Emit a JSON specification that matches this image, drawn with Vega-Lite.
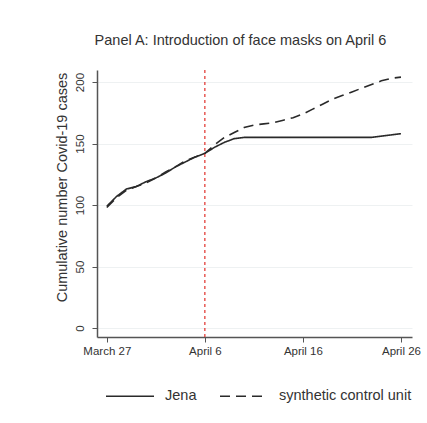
{
  "$schema": "https://vega.github.io/schema/vega-lite/v6.json",
  "width": 315,
  "height": 267,
  "autosize": {"type": "none"},
  "padding": {"left": 97, "top": 70, "right": 15, "bottom": 86},
  "background": "white",
  "title": {
    "text": "Panel A: Introduction of face masks on April 6",
    "font": "Liberation Sans",
    "fontSize": 14.5,
    "fontWeight": "normal",
    "color": "#333",
    "offset": 21,
    "dx": -14
  },
  "config": {
    "view": {"stroke": null},
    "font": "Liberation Sans"
  },
  "datasets": {
    "series": [
      {"date": "2020-03-27T00:00:00", "series": "Jena", "cases": 99},
      {"date": "2020-03-28T00:00:00", "series": "Jena", "cases": 107},
      {"date": "2020-03-29T00:00:00", "series": "Jena", "cases": 113},
      {"date": "2020-03-30T00:00:00", "series": "Jena", "cases": 115},
      {"date": "2020-03-31T00:00:00", "series": "Jena", "cases": 119},
      {"date": "2020-04-01T00:00:00", "series": "Jena", "cases": 122},
      {"date": "2020-04-02T00:00:00", "series": "Jena", "cases": 126},
      {"date": "2020-04-03T00:00:00", "series": "Jena", "cases": 131},
      {"date": "2020-04-04T00:00:00", "series": "Jena", "cases": 135},
      {"date": "2020-04-05T00:00:00", "series": "Jena", "cases": 139},
      {"date": "2020-04-06T00:00:00", "series": "Jena", "cases": 142},
      {"date": "2020-04-07T00:00:00", "series": "Jena", "cases": 147},
      {"date": "2020-04-08T00:00:00", "series": "Jena", "cases": 151},
      {"date": "2020-04-09T00:00:00", "series": "Jena", "cases": 154},
      {"date": "2020-04-10T00:00:00", "series": "Jena", "cases": 155},
      {"date": "2020-04-11T00:00:00", "series": "Jena", "cases": 155},
      {"date": "2020-04-12T00:00:00", "series": "Jena", "cases": 155},
      {"date": "2020-04-13T00:00:00", "series": "Jena", "cases": 155},
      {"date": "2020-04-14T00:00:00", "series": "Jena", "cases": 155},
      {"date": "2020-04-15T00:00:00", "series": "Jena", "cases": 155},
      {"date": "2020-04-16T00:00:00", "series": "Jena", "cases": 155},
      {"date": "2020-04-17T00:00:00", "series": "Jena", "cases": 155},
      {"date": "2020-04-18T00:00:00", "series": "Jena", "cases": 155},
      {"date": "2020-04-19T00:00:00", "series": "Jena", "cases": 155},
      {"date": "2020-04-20T00:00:00", "series": "Jena", "cases": 155},
      {"date": "2020-04-21T00:00:00", "series": "Jena", "cases": 155},
      {"date": "2020-04-22T00:00:00", "series": "Jena", "cases": 155},
      {"date": "2020-04-23T00:00:00", "series": "Jena", "cases": 155},
      {"date": "2020-04-24T00:00:00", "series": "Jena", "cases": 156},
      {"date": "2020-04-25T00:00:00", "series": "Jena", "cases": 157},
      {"date": "2020-04-26T00:00:00", "series": "Jena", "cases": 158},
      {"date": "2020-03-27T00:00:00", "series": "synthetic control unit", "cases": 98},
      {"date": "2020-03-28T00:00:00", "series": "synthetic control unit", "cases": 106},
      {"date": "2020-03-29T00:00:00", "series": "synthetic control unit", "cases": 112},
      {"date": "2020-03-30T00:00:00", "series": "synthetic control unit", "cases": 115},
      {"date": "2020-03-31T00:00:00", "series": "synthetic control unit", "cases": 118},
      {"date": "2020-04-01T00:00:00", "series": "synthetic control unit", "cases": 122},
      {"date": "2020-04-02T00:00:00", "series": "synthetic control unit", "cases": 127},
      {"date": "2020-04-03T00:00:00", "series": "synthetic control unit", "cases": 131},
      {"date": "2020-04-04T00:00:00", "series": "synthetic control unit", "cases": 136},
      {"date": "2020-04-05T00:00:00", "series": "synthetic control unit", "cases": 139},
      {"date": "2020-04-06T00:00:00", "series": "synthetic control unit", "cases": 142},
      {"date": "2020-04-07T00:00:00", "series": "synthetic control unit", "cases": 149},
      {"date": "2020-04-08T00:00:00", "series": "synthetic control unit", "cases": 155},
      {"date": "2020-04-09T00:00:00", "series": "synthetic control unit", "cases": 159},
      {"date": "2020-04-10T00:00:00", "series": "synthetic control unit", "cases": 163},
      {"date": "2020-04-11T00:00:00", "series": "synthetic control unit", "cases": 165},
      {"date": "2020-04-12T00:00:00", "series": "synthetic control unit", "cases": 166},
      {"date": "2020-04-13T00:00:00", "series": "synthetic control unit", "cases": 167},
      {"date": "2020-04-14T00:00:00", "series": "synthetic control unit", "cases": 169},
      {"date": "2020-04-15T00:00:00", "series": "synthetic control unit", "cases": 171},
      {"date": "2020-04-16T00:00:00", "series": "synthetic control unit", "cases": 174},
      {"date": "2020-04-17T00:00:00", "series": "synthetic control unit", "cases": 178},
      {"date": "2020-04-18T00:00:00", "series": "synthetic control unit", "cases": 182},
      {"date": "2020-04-19T00:00:00", "series": "synthetic control unit", "cases": 186},
      {"date": "2020-04-20T00:00:00", "series": "synthetic control unit", "cases": 189},
      {"date": "2020-04-21T00:00:00", "series": "synthetic control unit", "cases": 192},
      {"date": "2020-04-22T00:00:00", "series": "synthetic control unit", "cases": 195},
      {"date": "2020-04-23T00:00:00", "series": "synthetic control unit", "cases": 198},
      {"date": "2020-04-24T00:00:00", "series": "synthetic control unit", "cases": 201},
      {"date": "2020-04-25T00:00:00", "series": "synthetic control unit", "cases": 203},
      {"date": "2020-04-26T00:00:00", "series": "synthetic control unit", "cases": 204}
    ],
    "event": [
      {"date": "2020-04-06T00:00:00", "label": "Introduction of face masks"}
    ]
  },
  "layer": [
    {
      "data": {"name": "series"},
      "mark": {"type": "line", "color": "#2a2a2a", "strokeWidth": 1.6},
      "encoding": {
        "x": {
          "field": "date",
          "type": "temporal",
          "scale": {
            "domain": [
              {"year": 2020, "month": "mar", "date": 26, "hours": 0},
              {"year": 2020, "month": "apr", "date": 27, "hours": 3}
            ],
            "nice": false
          },
          "axis": {
            "title": null,
            "values": [
              {"year": 2020, "month": "mar", "date": 27},
              {"year": 2020, "month": "apr", "date": 6},
              {"year": 2020, "month": "apr", "date": 16},
              {"year": 2020, "month": "apr", "date": 26}
            ],
            "format": "%B %-d",
            "labelFontSize": 11.5,
            "labelColor": "#333",
            "labelPadding": 3,
            "labelFlush": false,
            "labelOverlap": false,
            "domainColor": "#555",
            "domainWidth": 1.5,
            "tickColor": "#555",
            "tickSize": 5,
            "tickWidth": 1,
            "grid": false
          }
        },
        "y": {
          "field": "cases",
          "type": "quantitative",
          "scale": {"domain": [-7.3, 209.8], "nice": false, "zero": false},
          "axis": {
            "title": "Cumulative number Covid-19 cases",
            "titleFontSize": 14.5,
            "titleFontWeight": "normal",
            "titleColor": "#333",
            "titlePadding": 5,
            "titleY": 117,
            "values": [0, 50, 100, 150, 200],
            "labelAngle": 270,
            "labelAlign": "center",
            "labelBaseline": "bottom",
            "labelFontSize": 11.5,
            "labelColor": "#333",
            "labelPadding": 7,
            "domainColor": "#555",
            "domainWidth": 1.5,
            "tickColor": "#555",
            "tickSize": 5,
            "tickWidth": 1,
            "grid": true,
            "gridColor": "#eef1f2",
            "gridWidth": 1
          }
        },
        "strokeDash": {
          "field": "series",
          "type": "nominal",
          "scale": {
            "domain": ["Jena", "synthetic control unit"],
            "range": [[1, 0], [10, 6]]
          },
          "legend": {
            "title": null,
            "orient": "none",
            "legendX": 8,
            "legendY": 301,
            "direction": "horizontal",
            "symbolType": "stroke",
            "symbolSize": 2304,
            "symbolStrokeWidth": 1.4,
            "symbolStrokeColor": "#2a2a2a",
            "labelFontSize": 14.5,
            "labelColor": "#333",
            "labelOffset": 10,
            "columnPadding": 20
          }
        }
      }
    },
    {
      "data": {"name": "event"},
      "mark": {"type": "rule", "color": "#e0302a", "strokeWidth": 1.2, "strokeDash": [3, 3]},
      "encoding": {
        "x": {"field": "date", "type": "temporal"}
      }
    }
  ]
}
